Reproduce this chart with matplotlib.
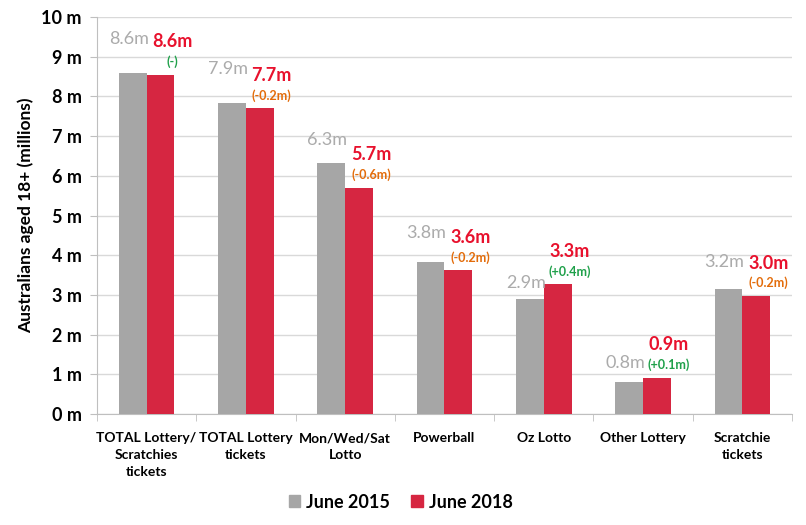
"""Lottery participation chart, June 2015 vs June 2018."""
import matplotlib
matplotlib.use("Agg")
import matplotlib.pyplot as plt
from matplotlib.patches import Patch
import numpy as np

categories = [
    "TOTAL Lottery/\nScratchies\ntickets",
    "TOTAL Lottery\ntickets",
    "Mon/Wed/Sat\nLotto",
    "Powerball",
    "Oz Lotto",
    "Other Lottery",
    "Scratchie\ntickets",
]
june_2015 = [8.58, 7.84, 6.32, 3.82, 2.89, 0.80, 3.14]
june_2018 = [8.55, 7.70, 5.70, 3.62, 3.27, 0.91, 2.97]
labels_2015 = ["8.6m", "7.9m", "6.3m", "3.8m", "2.9m", "0.8m", "3.2m"]
labels_2018 = ["8.6m", "7.7m", "5.7m", "3.6m", "3.3m", "0.9m", "3.0m"]
changes = ["(-)", "(-0.2m)", "(-0.6m)", "(-0.2m)", "(+0.4m)", "(+0.1m)", "(-0.2m)"]
yticks = [0, 1, 2, 3, 4, 5, 6, 7, 8, 9, 10]

GREY = "#A6A6A6"
RED = "#D62641"
RED_TXT = "#E8112D"
ORANGE = "#E36C0A"
GREEN = "#1FA04A"

plt.rcParams["font.family"] = ["Lato", "DejaVu Sans"]

fig = plt.figure(figsize=(8.06, 5.25), dpi=100)
ax = fig.add_axes([0.1203, 0.2114, 0.8623, 0.7562])

x = np.arange(len(categories))
w = 0.28
ax.bar(x - w / 2, june_2015, width=w, color=GREY, zorder=3)
ax.bar(x + w / 2, june_2018, width=w, color=RED, zorder=3)

# grey labels were nudged by hand in the original, so offsets vary
grey_dy = [34, 34, 23, 29, 16, 19, 27]
for i in range(len(categories)):
    ax.annotate(labels_2015[i], (x[i] - w / 2, june_2015[i]),
                xytext=(-4, grey_dy[i]), textcoords="offset pixels",
                ha="center", va="center", fontsize=13, color="#ABABAB")
    ax.annotate(labels_2018[i], (x[i] + w / 2, june_2018[i]),
                xytext=(12, 33), textcoords="offset pixels",
                ha="center", va="center", fontsize=13,
                fontweight="bold", color=RED_TXT)
    col = ORANGE if changes[i].startswith("(-0") else GREEN
    ax.annotate(changes[i], (x[i] + w / 2, june_2018[i]),
                xytext=(12, 13), textcoords="offset pixels",
                ha="center", va="center", fontsize=9,
                fontweight="bold", color=col)

ax.set_xlim(-0.5, len(categories) - 0.5)
ax.set_ylim(0, 10)
ax.set_yticks(yticks)
ax.set_yticklabels([f"{t} m" for t in yticks], fontsize=13, fontweight="bold")
ax.set_ylabel("Australians aged 18+ (millions)", fontsize=12.5,
              fontweight="bold", labelpad=5)

ax.set_xticks(x)
ax.set_xticklabels(categories, fontsize=10, fontweight="bold", linespacing=1.5)
ax.set_xticks(np.arange(-0.5, len(categories)), minor=True)
ax.tick_params(axis="x", which="major", length=0, pad=13)
ax.tick_params(axis="x", which="minor", length=5, color="#BFBFBF")
ax.tick_params(axis="y", length=5, color="#BFBFBF", pad=6)

ax.grid(axis="y", color="#D9D9D9", linewidth=1, zorder=0)
for side in ["top", "right"]:
    ax.spines[side].set_visible(False)
for side in ["left", "bottom"]:
    ax.spines[side].set_color("#BFBFBF")

handles = [Patch(color=GREY, label="June 2015"), Patch(color=RED, label="June 2018")]
fig.legend(handles=handles, loc="center", bbox_to_anchor=(0.497, 1 - 502 / 525),
           ncol=2, frameon=False, prop={"size": 13, "weight": "bold"},
           handlelength=0.65, handleheight=0.65, handletextpad=0.3,
           columnspacing=1.2)

fig.savefig("out.png", dpi=100)
